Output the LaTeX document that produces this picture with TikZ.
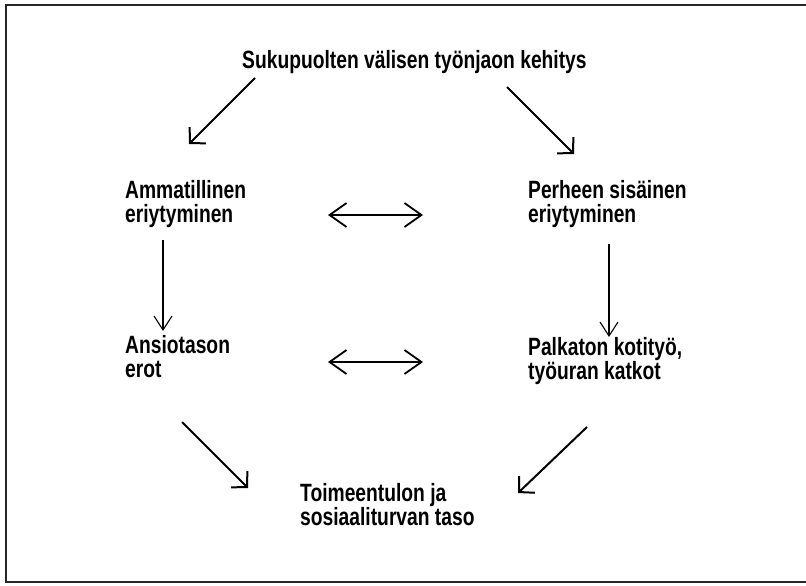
\documentclass[tikz,border=0pt]{standalone}
\usepackage{fontspec}
\newfontfamily\lblfont[FakeStretch=0.77]{Liberation Sans}
\usetikzlibrary{arrows.meta}
\newcommand\twolines[2]{\vtop{\hbox{#1}\hbox{#2}}}
\begin{document}
\begin{tikzpicture}[x=1pt,y=-1pt,
  lbl/.style={font=\fontsize{25}{24.5}\selectfont\lblfont\bfseries, inner sep=0pt, anchor=base west, text=black},
  diagarrow/.style={line width=2pt, -{Straight Barb[length=11pt,width=23pt]}},
  vertarrow/.style={line width=1.1pt, -{Straight Barb[length=14pt,width=18pt]}},
  dblarrow/.style={line width=1.8pt, {Straight Barb[length=17pt,width=24pt]}-{Straight Barb[length=17pt,width=24pt]}},
  frameline/.style={line width=2pt, black!85}]
\useasboundingbox (0,0) rectangle (806,586);
\fill[white] (0,0) rectangle (806,586);
\draw[frameline] (806,5.5) -- (5.5,5.5) -- (5.5,582) -- (806,582);

\node[lbl] (title) at (242,69) {Sukupuolten välisen työnjaon kehitys};
\node[lbl] (amm) at (125,198) {\twolines{Ammatillinen}{eriytyminen}};
\node[lbl] (per) at (528,198) {\twolines{Perheen sisäinen}{eriytyminen}};
\node[lbl] (ans) at (125,353) {\twolines{Ansiotason}{erot}};
\node[lbl] (pal) at (528,355) {\twolines{Palkaton kotityö,}{työuran katkot}};
\node[lbl] (toi) at (300,501) {\twolines{Toimeentulon ja}{sosiaaliturvan taso}};

\coordinate (d1s) at (255,78);  \coordinate (d1e) at (189,144);
\coordinate (d2s) at (507,87);  \coordinate (d2e) at (574,154);
\coordinate (h1s) at (328,215); \coordinate (h1e) at (423,215);
\coordinate (v1s) at (163,240); \coordinate (v1e) at (163,331);
\coordinate (v2s) at (609,244); \coordinate (v2e) at (609,337);
\coordinate (h2s) at (328,362); \coordinate (h2e) at (423,362);
\coordinate (d3s) at (182,422); \coordinate (d3e) at (248,488);
\coordinate (d4s) at (587,427); \coordinate (d4e) at (518,493);

\draw[diagarrow] (d1s) -- (d1e);
\draw[diagarrow] (d2s) -- (d2e);
\draw[dblarrow] (h1s) -- (h1e);
\draw[vertarrow] (v1s) -- (v1e);
\draw[vertarrow] (v2s) -- (v2e);
\draw[dblarrow] (h2s) -- (h2e);
\draw[diagarrow] (d3s) -- (d3e);
\draw[diagarrow] (d4s) -- (d4e);
\end{tikzpicture}
\end{document}
